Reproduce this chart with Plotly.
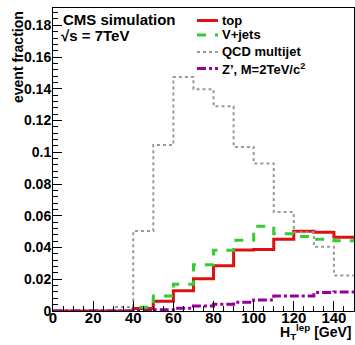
import plotly.graph_objects as go

edges = [0, 10, 20, 30, 40, 50, 60, 70, 80, 90, 100, 110, 120, 130, 140, 150]
top = [0, 0, 0, 0, 0.0015, 0.0061, 0.0127, 0.0203, 0.0285, 0.0384, 0.0388, 0.0452, 0.0502, 0.0496, 0.0464]
vjets = [0, 0, 0, 0, 0.0023, 0.0095, 0.0169, 0.0291, 0.0382, 0.0445, 0.0534, 0.0487, 0.0470, 0.0452, 0.0443]
qcd = [0, 0, 0, 0.0025, 0.0504, 0.1046, 0.1475, 0.1397, 0.1290, 0.1034, 0.0930, 0.0623, 0.0496, 0.0405, 0.0224]
zprime = [0, 0, 0, 0, 0, 0.0008, 0.0018, 0.0032, 0.0042, 0.0055, 0.0070, 0.0095, 0.0094, 0.0117, 0.0120]

series = [
    ("top", top, "#dd1111", "solid", 3),
    ("V+jets", vjets, "#33cc33", "dash", 3),
    ("QCD multijet", qcd, "#999999", "dot", 2),
    ("Z’, M=2TeV/c<sup>2</sup>", zprime, "#990099", "dashdot", 3),
]

FONT = "Liberation Sans, Arial, Helvetica, sans-serif"

# plot-area pixel geometry (for placing text decorations)
L, R, T, B = 53, 354, 8, 311
def px(x):
    return (x - L) / (R - L)
def py(y):
    return (B - y) / (B - T)

fig = go.Figure()
for name, vals, col, dash, w in series:
    fig.add_trace(go.Scatter(
        x=edges, y=list(vals) + [vals[-1]], mode="lines", name=name,
        line=dict(shape="hv", color=col, dash=dash, width=w),
        showlegend=False,
    ))

annotations = [
    dict(text="<b>event fraction</b>", textangle=-90, xref="paper", yref="paper",
         x=px(8), y=py(9), xanchor="left", yanchor="top", showarrow=False,
         font=dict(size=14, family=FONT)),
    dict(text="<b>H<sub>T</sub><sup>lep</sup> [GeV]</b>", xref="paper", yref="paper",
         x=1.0, y=py(320), xanchor="right", yanchor="top", showarrow=False,
         font=dict(size=14, family=FONT)),
    dict(text="<b>CMS simulation</b>", xref="paper", yref="paper",
         x=px(61), y=py(9), xanchor="left", yanchor="top", showarrow=False,
         font=dict(size=15, family=FONT)),
    dict(text="<b>√s = 7TeV</b>", xref="paper", yref="paper",
         x=px(59), y=py(25), xanchor="left", yanchor="top", showarrow=False,
         font=dict(size=15, family=FONT)),
]
shapes = []
leg_y = [20.5, 35, 52, 68.5]
for (name, vals, col, dash, w), yy in zip(series, leg_y):
    shapes.append(dict(type="line", xref="paper", yref="paper",
                       x0=px(197), x1=px(218), y0=py(yy), y1=py(yy),
                       line=dict(color=col, dash=dash, width=w)))
    annotations.append(dict(text="<b>" + name + "</b>", xref="paper", yref="paper",
                            x=px(220), y=py(yy), xanchor="left", yanchor="middle",
                            showarrow=False, font=dict(size=13, family=FONT)))

fig.update_layout(
    width=355, height=345,
    margin=dict(l=L, r=355 - R, t=T, b=345 - B),
    paper_bgcolor="white", plot_bgcolor="white",
    font=dict(family=FONT, size=14, color="black"),
    showlegend=False,
    xaxis=dict(
        range=[0, 150], tickmode="linear", tick0=0, dtick=20,
        ticks="inside", ticklen=10, tickwidth=1, tickcolor="black",
        showgrid=False, zeroline=False, showline=True, linecolor="black", linewidth=1, mirror=True,
        tickfont=dict(size=15, family=FONT, weight="bold"),
        ticklabelstandoff=-7,
        minor=dict(dtick=5, ticks="inside", ticklen=5, tickcolor="black", showgrid=False),
    ),
    yaxis=dict(
        range=[0, 0.1909], tickmode="linear", tick0=0, dtick=0.02,
        ticks="inside", ticklen=9, tickwidth=1, tickcolor="black",
        showgrid=False, zeroline=False, showline=True, linecolor="black", linewidth=1, mirror=True,
        tickfont=dict(size=14, family=FONT, weight="bold"),
        ticklabelstandoff=-2,
        minor=dict(dtick=0.004, ticks="inside", ticklen=5, tickcolor="black", showgrid=False),
    ),
    annotations=annotations,
    shapes=shapes,
)

fig.write_html("out.html")
